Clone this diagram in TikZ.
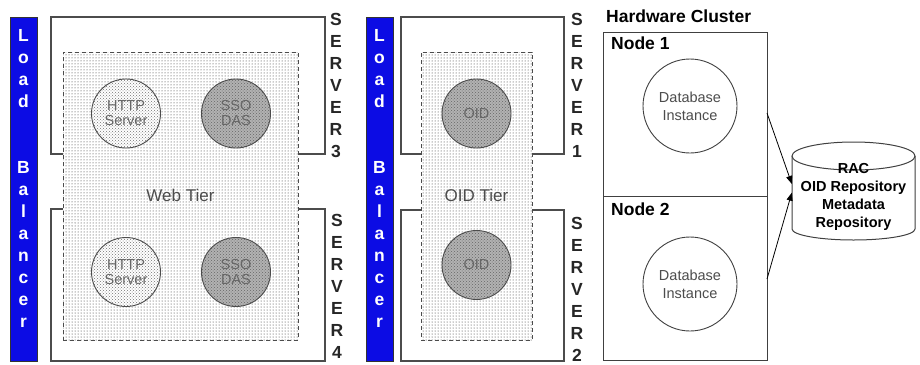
\documentclass[tikz,border=0pt]{standalone}
\usepackage{fontspec}
\setmainfont{Liberation Sans}
\usepackage{xcolor}
\usetikzlibrary{arrows.meta,positioning,shapes.geometric,patterns}
\definecolor{lbblue}{RGB}{12,12,228}

\begin{document}
\begin{tikzpicture}[x=1pt,y=-1pt,
  lbbar/.style={draw=black!80,fill=lbblue,minimum width=27pt,minimum height=344pt,inner sep=0pt},
  lbtext/.style={text=white,font=\fontsize{17.5}{20}\selectfont\bfseries,inner sep=0pt,anchor=base},
  srvtext/.style={text=black!85,font=\fontsize{17.5}{20}\selectfont\bfseries,inner sep=0pt,anchor=base},
  srvbox/.style={draw=black!70,line width=1.2pt,inner sep=0pt},
  tierbox/.style={draw=black!70,dash pattern=on 4pt off 3pt,line width=0.9pt,inner sep=0pt,
    preaction={fill=white},pattern=dots,pattern color=black!85},
  tiertext/.style={text=black!70,font=\fontsize{17}{20}\selectfont,inner sep=1pt},
  appcirc/.style={circle,draw=black!70,line width=0.9pt,minimum size=69pt,inner sep=0pt,align=center,
    text=black!60,font=\fontsize{14.5}{15}\selectfont},
  lightapp/.style={appcirc,preaction={fill=white},pattern=crosshatch dots,pattern color=black!55},
  darkapp/.style={appcirc,preaction={fill=black!30},pattern=crosshatch dots,pattern color=black!60},
  nodebox/.style={draw=black!75,line width=1pt,minimum width=164pt,minimum height=164pt,inner sep=0pt},
  nodetext/.style={font=\fontsize{17.5}{20}\selectfont\bfseries,anchor=west,inner sep=0pt},
  dbcirc/.style={circle,draw=black!75,line width=0.9pt,minimum size=94pt,inner sep=0pt,align=center,
    text=black!70,font=\fontsize{14.5}{18}\selectfont},
  link/.style={draw=black,line width=0.8pt,-{Triangle[length=8pt,width=6pt]}}]
  \useasboundingbox (0,0) rectangle (920,364);

  \node[srvbox,minimum width=274pt,minimum height=137pt] (srv3) at (188,85.5) {};
  \node[srvbox,minimum width=274pt,minimum height=152pt] (srv4) at (188,285) {};
  \node[srvbox,minimum width=163pt,minimum height=137pt] (srv1) at (482.5,85.5) {};
  \node[srvbox,minimum width=163pt,minimum height=151pt] (srv2) at (482.5,285.5) {};

  \node[tierbox,minimum width=235pt,minimum height=288pt] (webtier) at (180.5,196) {};
  \node[tierbox,minimum width=111pt,minimum height=288pt] (oidtier) at (476.5,196) {};
  \node[tiertext] (weblabel) at (180.5,195) {Web Tier};
  \node[tiertext] (oidlabel) at (476.5,195) {OID Tier};

  \node[lightapp] (http3) at (126,113.5) {HTTP\\Server};
  \node[darkapp] (sso3) at (236,113.5) {SSO\\DAS};
  \node[lightapp] (http4) at (126,272) {HTTP\\Server};
  \node[darkapp] (sso4) at (236,272) {SSO\\DAS};
  \node[darkapp] (oid1) at (476.5,113.5) {OID};
  \node[darkapp] (oid2) at (476.5,265) {OID};

  \foreach \bx/\bn in {23.5/lba,379.5/lbb} {
    \node[lbbar] (\bn) at (\bx,189) {};
    \foreach \ch [count=\i from 0] in {L,o,a,d}
      \node[lbtext] (\bn-\i) at (\bx,41+22*\i) {\ch};
    \foreach \ch [count=\i from 6] in {B,a,l,a,n,c,e,r}
      \node[lbtext] (\bn-\i) at (\bx,41+22*\i) {\ch};
  }

  \foreach \sx/\sy/\sn in {336/25.5/3,337/226.5/4,577/25.5/1,577/229/2}
    \foreach \ch [count=\i from 0] in {S,E,R,V,E,R,\sn}
      \node[srvtext] (s\sn-\i) at (\sx,\sy+22*\i) {\ch};

  \node[nodetext,anchor=west] (hwlabel) at (606,16) {Hardware Cluster};
  \node[nodebox] (node1) at (685,114) {};
  \node[nodebox] (node2) at (685,278) {};
  \node[nodetext] (n1label) at (611,43) {Node 1};
  \node[nodetext] (n2label) at (611,209) {Node 2};
  \node[dbcirc] (db1) at (690,106) {Database\\Instance};
  \node[dbcirc] (db2) at (690,284) {Database\\Instance};

  \draw[draw=black!75,line width=1pt,fill=white] (792,156) -- (792,229)
    arc[start angle=180,end angle=0,x radius=61.5,y radius=11] -- (915,156);
  \draw[draw=black!75,line width=1pt,fill=white] (853.5,156) ellipse[x radius=61.5,y radius=14];
  \node[minimum width=123pt,minimum height=86pt,inner sep=0pt,align=center,
    font=\fontsize{14.5}{18}\selectfont\bfseries] (rac) at (853.5,197)
    {RAC\\OID Repository\\Metadata\\Repository};

  \coordinate (n1out) at (767,113);
  \coordinate (n2out) at (767,279);
  \draw[link] (n1out) -- (rac.168);
  \draw[link] (n2out) -- (rac.176);
\end{tikzpicture}
\end{document}
